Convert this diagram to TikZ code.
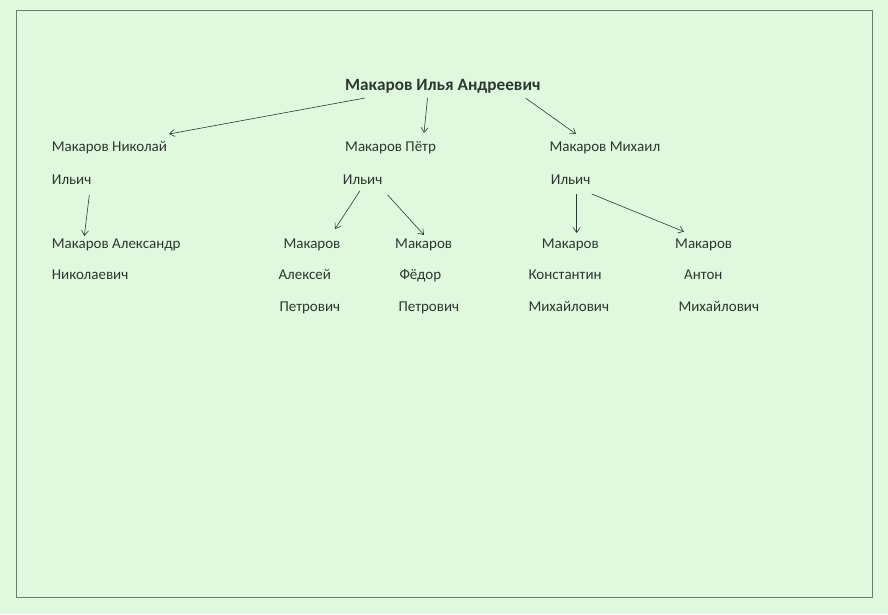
\documentclass[tikz,border=0pt]{standalone}
\usepackage{fontspec}
\setmainfont{Carlito}
\usetikzlibrary{arrows.meta}
\definecolor{bg}{RGB}{224,249,222}
\definecolor{frame}{RGB}{105,125,105}
\definecolor{ink}{RGB}{45,55,48}
\tikzset{
  lbl/.style={anchor=base west, inner sep=0pt, text=ink, font=\fontsize{15}{18}\selectfont},
  ttl/.style={anchor=base west, inner sep=0pt, text=ink, font=\fontsize{17.2}{20}\selectfont\bfseries},
  arr/.style={draw=ink, line width=0.6pt, -{Straight Barb[length=5pt,width=7pt]}},
}
\begin{document}
\begin{tikzpicture}[x=1pt,y=-1pt]
\fill[bg] (0,0) rectangle (888,614);
\useasboundingbox (0,0) rectangle (888,614);
\draw[frame, line width=0.7pt] (16,10) rectangle (872,597);

\node[ttl] (title) at (345,90) {Макаров Илья Андреевич};

\node[lbl] (nik1) at (51.7,151.7) {Макаров Николай};
\node[lbl] (nik2) at (51.7,184) {Ильич};
\node[lbl] (pet1) at (345,151.7) {Макаров Пётр};
\node[lbl] (pet2) at (342.7,184) {Ильич};
\node[lbl] (mih1) at (549.3,151.7) {Макаров Михаил};
\node[lbl] (mih2) at (550.7,184) {Ильич};

\node[lbl] (san1) at (51.7,248.3) {Макаров Александр};
\node[lbl] (san2) at (51.7,279.3) {Николаевич};

\node[lbl] (ale1) at (283.3,248.3) {Макаров};
\node[lbl] (ale2) at (278.3,279.3) {Алексей};
\node[lbl] (ale3) at (279.3,311.7) {Петрович};

\node[lbl] (fed1) at (395,248.3) {Макаров};
\node[lbl] (fed2) at (399.3,279.3) {Фёдор};
\node[lbl] (fed3) at (398.3,311.7) {Петрович};

\node[lbl] (kon1) at (541.7,248.3) {Макаров};
\node[lbl] (kon2) at (528.3,279.3) {Константин};
\node[lbl] (kon3) at (528.3,311.7) {Михайлович};

\node[lbl] (ant1) at (675,248.3) {Макаров};
\node[lbl] (ant2) at (684,279.3) {Антон};
\node[lbl] (ant3) at (678.3,311.7) {Михайлович};

\draw[arr] ([shift={(20,8)}]title.base west) -- ([shift={(117.3,-17.7)}]nik1.base west);
\draw[arr] ([shift={(82.5,8)}]title.base west) -- ([shift={(79,-18.7)}]pet1.base west);
\draw[arr] ([shift={(180.5,8)}]title.base west) -- ([shift={(26.7,-17.7)}]mih1.base west);

\draw[arr] ([shift={(37.6,11)}]nik2.base west) -- ([shift={(32.6,-12.3)}]san1.base west);
\draw[arr] ([shift={(17.3,6.7)}]pet2.base west) -- ([shift={(51.7,-19.3)}]ale1.base west);
\draw[arr] ([shift={(45,11)}]pet2.base west) -- ([shift={(29,-13.3)}]fed1.base west);
\draw[arr] ([shift={(26,10)}]mih2.base west) -- ([shift={(35,-15.3)}]kon1.base west);
\draw[arr] ([shift={(41,10)}]mih2.base west) -- ([shift={(9,-16.6)}]ant1.base west);
\end{tikzpicture}
\end{document}
